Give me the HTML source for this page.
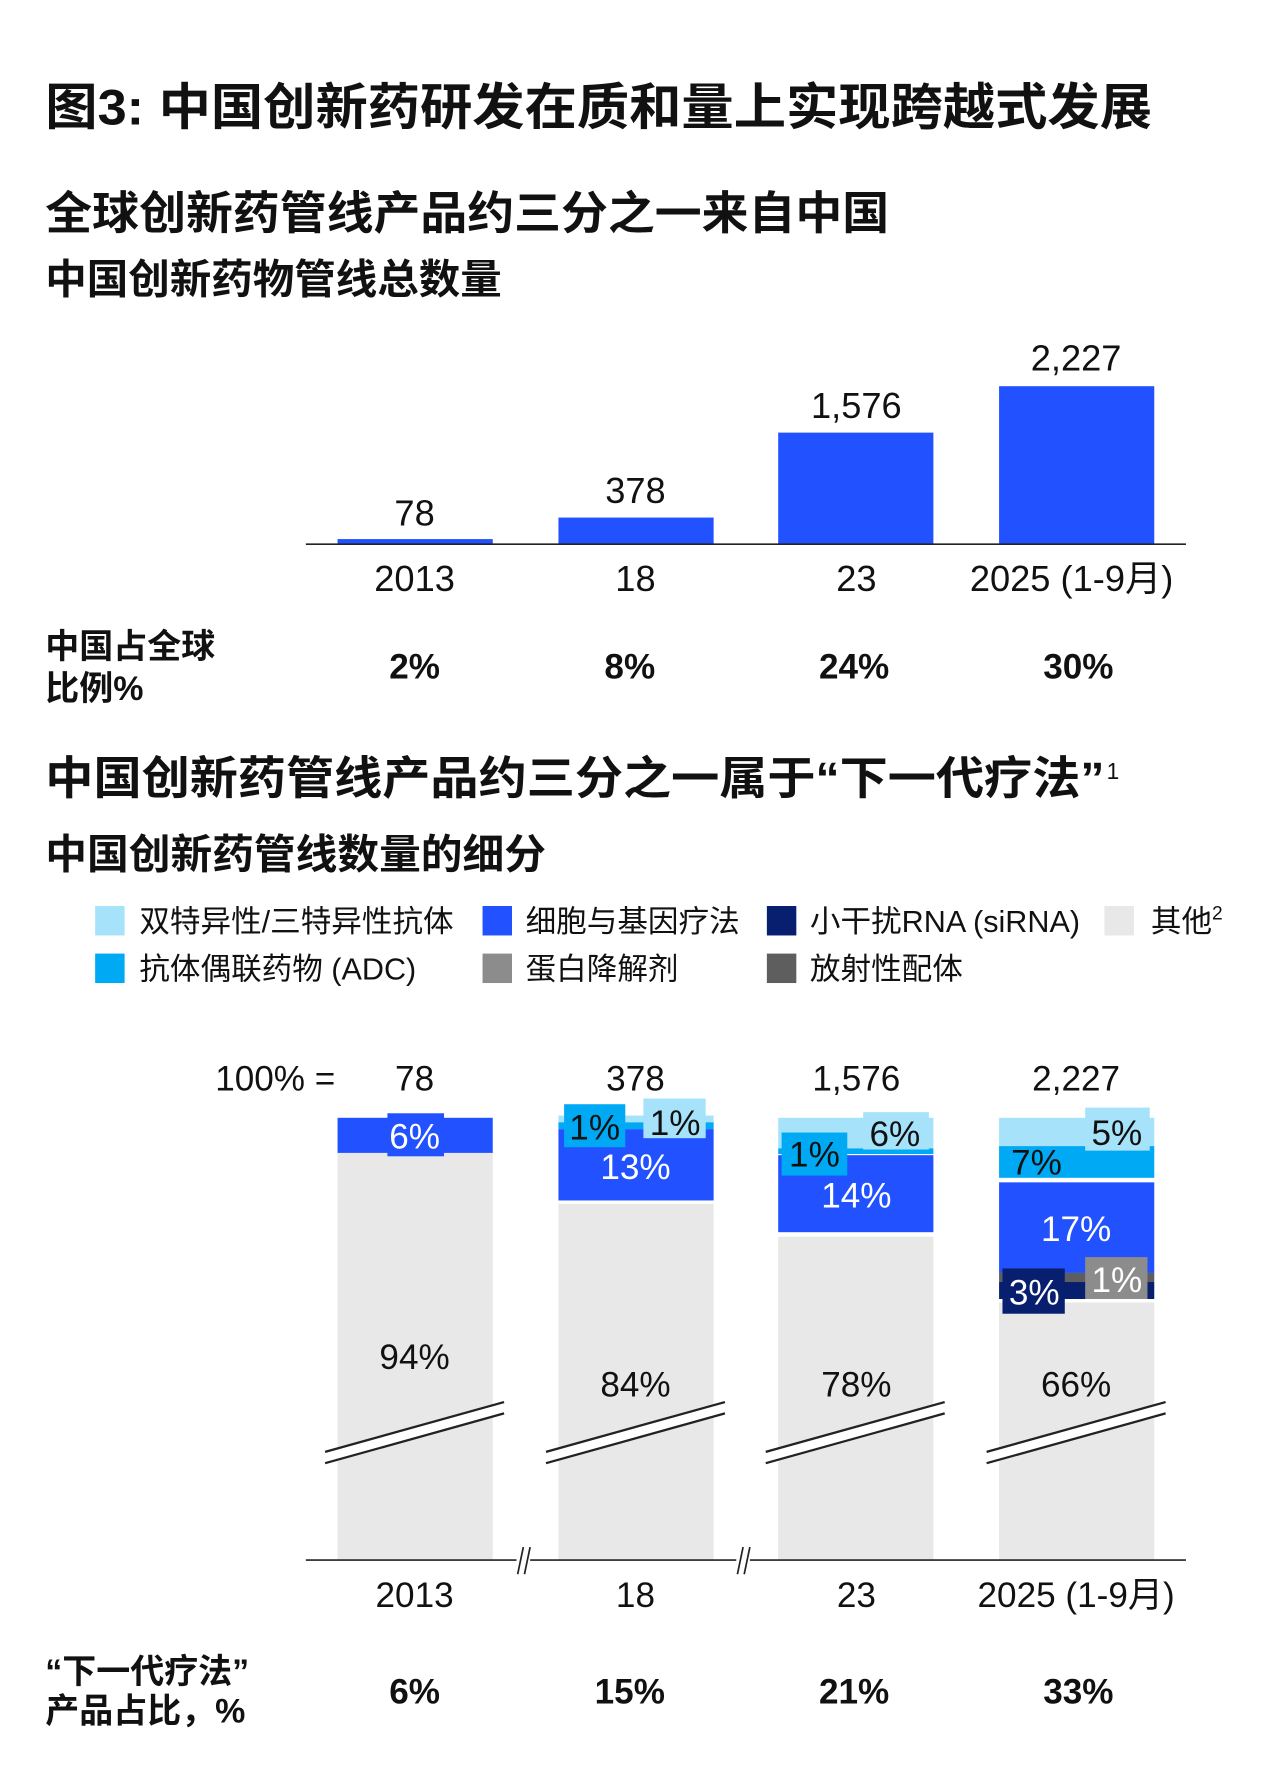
<!DOCTYPE html>
<html><head><meta charset="utf-8"><style>
html,body{margin:0;padding:0;background:#fff;}
svg{display:block;}
text{font-family:"Liberation Sans","Noto Sans CJK SC",sans-serif;fill:#111;}
.b{font-weight:bold;}
</style></head><body>
<svg width="1280" height="1769" viewBox="0 0 1130 1562" preserveAspectRatio="none" xmlns="http://www.w3.org/2000/svg">
<rect width="1130" height="1562" fill="#fff"/>
<text x="40" y="110" font-size="44" class="b" textLength="977" lengthAdjust="spacingAndGlyphs">图3: 中国创新药研发在质和量上实现跨越式发展</text>
<text x="40" y="202" font-size="40" class="b" textLength="745" lengthAdjust="spacingAndGlyphs">全球创新药管线产品约三分之一来自中国</text>
<text x="40" y="259" font-size="36" class="b" textLength="403" lengthAdjust="spacingAndGlyphs">中国创新药物管线总数量</text>

<!-- chart 1 -->
<g fill="#2251ff">
<rect x="298" y="476" width="137" height="4"/>
<rect x="493" y="457" width="137" height="23"/>
<rect x="687" y="382" width="137" height="98"/>
<rect x="882" y="341" width="137" height="139"/>
</g>
<line x1="270" y1="480.5" x2="1047" y2="480.5" stroke="#222" stroke-width="1.5"/>
<g font-size="32" text-anchor="middle">
<text x="366" y="464">78</text><text x="561" y="444">378</text><text x="756" y="369">1,576</text><text x="950" y="327">2,227</text>
<text x="366" y="522">2013</text><text x="561" y="522">18</text><text x="756" y="522">23</text><text x="946" y="522">2025 (1-9月)</text>
</g>
<text x="40" y="581" font-size="30" class="b">中国占全球</text>
<text x="40" y="618" font-size="30" class="b">比例%</text>
<g font-size="31" class="b" text-anchor="middle">
<text x="366" y="599">2%</text><text x="556" y="599">8%</text><text x="754" y="599">24%</text><text x="952" y="599">30%</text>
</g>

<text x="40" y="701" font-size="40" class="b" textLength="935" lengthAdjust="spacingAndGlyphs">中国创新药管线产品约三分之一属于“下一代疗法”</text>
<text x="977" y="688" font-size="20">1</text>
<text x="40" y="767" font-size="36" class="b" textLength="442" lengthAdjust="spacingAndGlyphs">中国创新药管线数量的细分</text>

<!-- legend -->
<g font-size="27">
<rect x="84" y="800" width="26" height="26" fill="#a6e3fb"/><text x="123" y="823">双特异性/三特异性抗体</text>
<rect x="426" y="800" width="26" height="26" fill="#2251ff"/><text x="464" y="823">细胞与基因疗法</text>
<rect x="677" y="800" width="26" height="26" fill="#071f6e"/><text x="715" y="823">小干扰RNA (siRNA)</text>
<rect x="975" y="800" width="26" height="26" fill="#e8e8e8"/><text x="1016" y="823">其他</text><text x="1070" y="812" font-size="17">2</text>
<rect x="84" y="842" width="26" height="26" fill="#00a9f4"/><text x="123" y="865">抗体偶联药物 (ADC)</text>
<rect x="426" y="842" width="26" height="26" fill="#8c8c8c"/><text x="464" y="865">蛋白降解剂</text>
<rect x="677" y="842" width="26" height="26" fill="#5e5e5e"/><text x="715" y="865">放射性配体</text>
</g>

<!-- chart 2 -->
<g font-size="31" text-anchor="middle">
<text x="243" y="963">100% =</text>
<text x="366" y="963">78</text><text x="561" y="963">378</text><text x="756" y="963">1,576</text><text x="950" y="963">2,227</text>
</g>
<g fill="#e8e8e8">
<rect x="298" y="1018" width="137" height="359"/>
<rect x="493" y="1063" width="137" height="314"/>
<rect x="687" y="1092" width="137" height="285"/>
<rect x="882" y="1150" width="137" height="227"/>
</g>
<rect x="298" y="987" width="137" height="31" fill="#2251ff"/>
<rect x="342" y="983" width="50" height="38" fill="#2251ff"/>
<rect x="493" y="985" width="137" height="6" fill="#a6e3fb"/>
<rect x="493" y="991" width="137" height="6" fill="#00a9f4"/>
<rect x="493" y="997" width="137" height="63" fill="#2251ff"/>
<rect x="498" y="975" width="54" height="38" fill="#00a9f4"/>
<rect x="568" y="970" width="55" height="35" fill="#a6e3fb"/>
<rect x="687" y="987" width="137" height="27" fill="#a6e3fb"/>
<rect x="687" y="1014" width="137" height="5" fill="#00a9f4"/>
<rect x="687" y="1020" width="137" height="68" fill="#2251ff"/>
<rect x="690" y="1000" width="58" height="38" fill="#00a9f4"/>
<rect x="762" y="982" width="58" height="33" fill="#a6e3fb"/>
<rect x="882" y="987" width="137" height="25" fill="#a6e3fb"/>
<rect x="882" y="1012" width="137" height="28" fill="#00a9f4"/>
<rect x="882" y="1044" width="137" height="80" fill="#2251ff"/>
<rect x="882" y="1124" width="137" height="8" fill="#5e5e5e"/>
<rect x="882" y="1132" width="137" height="15" fill="#071f6e"/>
<rect x="885" y="1120" width="55" height="40" fill="#071f6e"/>
<rect x="958" y="1110" width="55" height="37" fill="#8c8c8c"/>
<rect x="958" y="978" width="57" height="38" fill="#a6e3fb"/>
<g font-size="31" text-anchor="middle">
<text x="366" y="1014" style="fill:#fff">6%</text>
<text x="525" y="1006">1%</text><text x="596" y="1002">1%</text>
<text x="561" y="1041" style="fill:#fff">13%</text>
<text x="719" y="1030">1%</text><text x="790" y="1012">6%</text>
<text x="756" y="1066" style="fill:#fff">14%</text>
<text x="986" y="1011">5%</text><text x="915" y="1037">7%</text>
<text x="950" y="1096" style="fill:#fff">17%</text>
<text x="913" y="1152" style="fill:#fff">3%</text><text x="986" y="1141" style="fill:#fff">1%</text>
<text x="366" y="1209">94%</text><text x="561" y="1233">84%</text><text x="756" y="1233">78%</text><text x="950" y="1233">66%</text>
</g>
<g stroke="#222" stroke-width="2" fill="none">
<g id="brk"><polygon points="287,1282 445,1238 445,1248 287,1292" fill="#fff" stroke="none"/><line x1="287" y1="1282" x2="445" y2="1238"/><line x1="287" y1="1292" x2="445" y2="1248"/></g>
<use href="#brk" transform="translate(195,0)"/>
<use href="#brk" transform="translate(389,0)"/>
<use href="#brk" transform="translate(584,0)"/>
</g>
<line x1="270" y1="1377.5" x2="1047" y2="1377.5" stroke="#222" stroke-width="1.5"/>
<g stroke="#222" stroke-width="1.5">
<rect x="456" y="1366" width="12" height="24" fill="#fff" stroke="none"/>
<line x1="457" y1="1390" x2="462" y2="1366"/><line x1="463" y1="1390" x2="468" y2="1366"/>
<rect x="650" y="1366" width="12" height="24" fill="#fff" stroke="none"/>
<line x1="651" y1="1390" x2="656" y2="1366"/><line x1="657" y1="1390" x2="662" y2="1366"/>
</g>
<g font-size="31" text-anchor="middle">
<text x="366" y="1419">2013</text><text x="561" y="1419">18</text><text x="756" y="1419">23</text><text x="950" y="1419">2025 (1-9月)</text>
</g>
<text x="40" y="1486" font-size="30" class="b">“下一代疗法”</text>
<text x="40" y="1521" font-size="30" class="b">产品占比，%</text>
<g font-size="31" class="b" text-anchor="middle">
<text x="366" y="1504">6%</text><text x="556" y="1504">15%</text><text x="754" y="1504">21%</text><text x="952" y="1504">33%</text>
</g>
</svg>
</body></html>
